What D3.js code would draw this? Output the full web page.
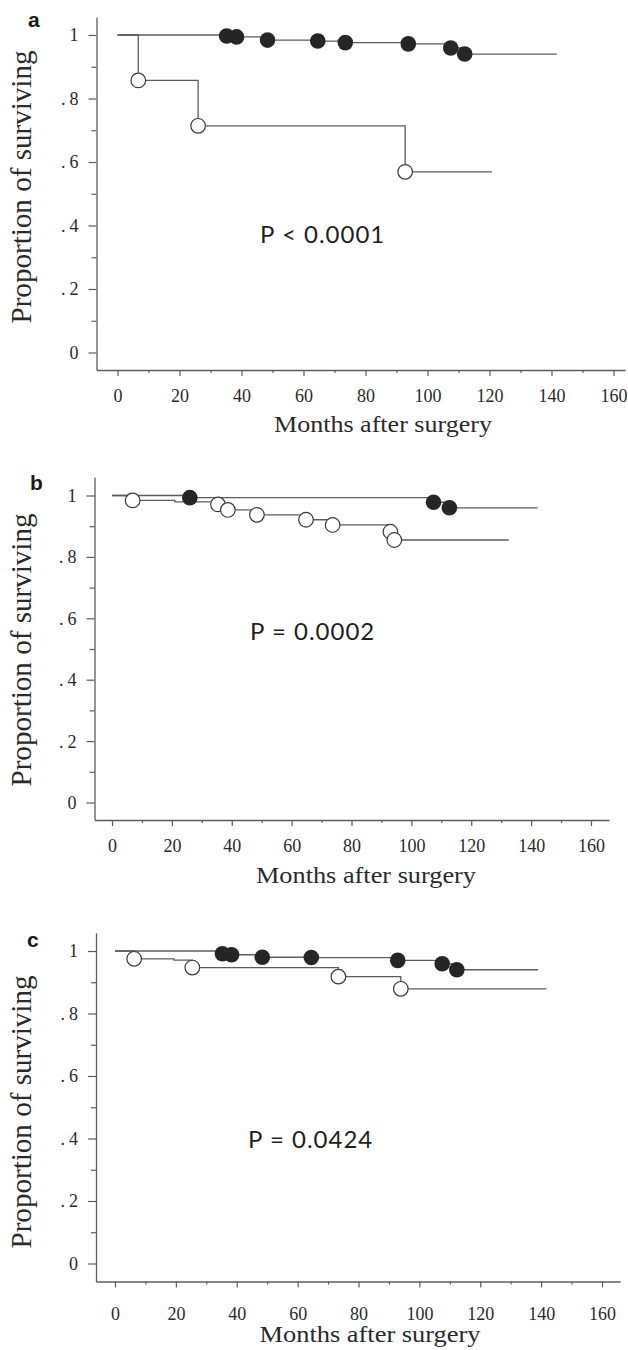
<!DOCTYPE html>
<html>
<head>
<meta charset="utf-8">
<script src="https://cdn.jsdelivr.net/npm/d3@7"></script>
<style>
  body { margin: 0; background: #fff; }
  svg { display: block; }
</style>
</head>
<body>
<svg id="chart" width="628" height="1350"></svg>
<script>
"use strict";

// axis ticks and labels
const xTicks = [0, 20, 40, 60, 80, 100, 120, 140, 160];
const xMinorTicks = [10, 30, 50, 70, 90, 110, 130, 150];
const yTicks = [0, 0.2, 0.4, 0.6, 0.8, 1];
const yTickLabels = ["0", ".2", ".4", ".6", ".8", "1"];
const yMinorTicks = [0.1, 0.3, 0.5, 0.7, 0.9];
const xTitle = "Months after surgery";
const yTitle = "Proportion of surviving";
const panelNames = ["a", "b", "c"];
const pTexts = ["P < 0.0001", "P = 0.0002", "P = 0.0424"];

// panel a
const aFilledTimes = [35.2, 38.4, 48.4, 64.6, 73.5, 93.8, 107.5, 112];
const aFilledSurv = [0.997, 0.994, 0.984, 0.981, 0.976, 0.972, 0.959, 0.94];
const aFilledEnd = 141.7;
const aOpenTimes = [6.7, 26, 92.8];
const aOpenSurv = [0.857, 0.714, 0.569];
const aOpenEnd = 120.8;

// panel b
const bFilledTimes = [26, 107.4, 112.7];
const bFilledSurv = [0.993, 0.978, 0.96];
const bFilledEnd = 142.2;
const bOpenTimes = [6.9, 21, 35.4, 38.7, 48.4, 64.8, 73.7, 93, 94.3];
const bOpenSurv = [0.984, 0.979, 0.971, 0.953, 0.937, 0.921, 0.904, 0.882, 0.855];
const bOpenMarked = [1, 0, 1, 1, 1, 1, 1, 1, 1];
const bOpenEnd = 132.5;

// panel c
const cFilledTimes = [35.3, 38.3, 48.4, 64.5, 92.9, 107.5, 112.3];
const cFilledSurv = [0.991, 0.988, 0.98, 0.979, 0.97, 0.959, 0.94];
const cFilledEnd = 139;
const cOpenTimes = [6.3, 19.4, 25.4, 73.4, 93.9];
const cOpenSurv = [0.975, 0.971, 0.947, 0.918, 0.879];
const cOpenMarked = [1, 0, 1, 1, 1];
const cOpenEnd = 141.8;

const svg = d3.select("#chart");
const serif = "'Liberation Serif', 'Times New Roman', serif";
const lineColor = "#5c5c5c";
const textColor = "#2a2a2a";

// pixel layout of each panel (the three plots are not quite aligned)
const panels = [
  { name: panelNames[0], p: pTexts[0],
    left: 96.5, right: 625, x0: 117.5, x160: 613.5,
    top: 17, bottom: 370, y0: 352.5, y1: 35,
    xLab: 32, titleY: 432, titleX: 383, titleW: 218,
    yTitleY: 187, nameX: 28, nameY: 27, pX: 260, pY: 243,
    filled: { t: aFilledTimes, s: aFilledSurv, end: aFilledEnd },
    open: { t: aOpenTimes, s: aOpenSurv, end: aOpenEnd } },
  { name: panelNames[1], p: pTexts[1],
    left: 94.5, right: 609, x0: 112, x160: 591,
    top: 477, bottom: 820, y0: 802.5, y1: 495.5,
    xLab: 32, titleY: 883, titleX: 366, titleW: 220,
    yTitleY: 650, nameX: 30, nameY: 490, pX: 250, pY: 640,
    filled: { t: bFilledTimes, s: bFilledSurv, end: bFilledEnd },
    open: { t: bOpenTimes, s: bOpenSurv, end: bOpenEnd, m: bOpenMarked } },
  { name: panelNames[2], p: pTexts[2],
    left: 96, right: 620, x0: 115, x160: 602,
    top: 933, bottom: 1281.5, y0: 1263.5, y1: 951,
    xLab: 38, titleY: 1342, titleX: 370, titleW: 221,
    yTitleY: 1112, nameX: 27, nameY: 947, pX: 248, pY: 1148,
    filled: { t: cFilledTimes, s: cFilledSurv, end: cFilledEnd },
    open: { t: cOpenTimes, s: cOpenSurv, end: cOpenEnd, m: cOpenMarked } }
];

const isMajorY = (d) => yTicks.some(v => Math.abs(v - d) < 1e-6);

const drawPanel = (p) => {
  const g = svg.append("g");

  // scales: ticks fixed at 0..160 / 0..1, axis lines run a bit past them
  const x = d3.scaleLinear().domain([0, 160]).range([p.x0, p.x160]);
  x.domain([x.invert(p.left), x.invert(p.right)]).range([p.left, p.right]);
  const y = d3.scaleLinear().domain([0, 1]).range([p.y0, p.y1]);
  y.domain([y.invert(p.bottom), y.invert(p.top)]).range([p.bottom, p.top]);

  // x axis
  const xg = g.append("g")
    .attr("transform", `translate(0,${p.bottom})`)
    .call(d3.axisBottom(x)
      .tickValues(xTicks.concat(xMinorTicks))
      .tickSizeOuter(0)
      .tickFormat(d => xTicks.includes(d) ? d : ""));
  xg.select(".domain").attr("stroke", lineColor).attr("stroke-width", 1.3);
  xg.selectAll(".tick line")
    .attr("stroke", lineColor)
    .attr("stroke-width", 1.2)
    .attr("y2", d => xTicks.includes(d) ? 6 : 3);
  xg.selectAll(".tick text")
    .attr("y", p.xLab)
    .attr("dy", 0)
    .attr("fill", textColor)
    .style("font-family", serif)
    .style("font-size", "18px");

  // y axis
  const yg = g.append("g")
    .attr("transform", `translate(${p.left},0)`)
    .call(d3.axisLeft(y)
      .tickValues(yTicks.concat(yMinorTicks))
      .tickSizeOuter(0)
      .tickFormat(d => {
        const i = yTicks.findIndex(v => Math.abs(v - d) < 1e-6);
        return i >= 0 ? yTickLabels[i] : "";
      }));
  yg.select(".domain").attr("stroke", lineColor).attr("stroke-width", 1.3);
  yg.selectAll(".tick line")
    .attr("stroke", lineColor)
    .attr("stroke-width", 1.2)
    .attr("x2", d => isMajorY(d) ? -8 : -5);
  yg.selectAll(".tick text")
    .attr("x", -14)
    .attr("dy", "0.33em")
    .attr("fill", textColor)
    .style("font-family", serif)
    .style("font-size", "18px")
    .style("letter-spacing", "4px");

  // titles
  g.append("text")
    .attr("x", p.titleX)
    .attr("y", p.titleY)
    .attr("text-anchor", "middle")
    .attr("textLength", p.titleW)
    .attr("lengthAdjust", "spacingAndGlyphs")
    .attr("fill", textColor)
    .style("font-family", serif)
    .style("font-size", "23px")
    .text(xTitle);

  g.append("text")
    .attr("transform", `translate(31,${p.yTitleY}) rotate(-90)`)
    .attr("text-anchor", "middle")
    .attr("textLength", 273)
    .attr("lengthAdjust", "spacingAndGlyphs")
    .attr("fill", textColor)
    .style("font-family", serif)
    .style("font-size", "29px")
    .text(yTitle);

  g.append("text")
    .attr("x", p.nameX)
    .attr("y", p.nameY)
    .attr("fill", "#1a1a1a")
    .style("font-family", "'Liberation Sans', Arial, sans-serif")
    .style("font-weight", "bold")
    .style("font-size", "21px")
    .text(p.name);

  g.append("text")
    .attr("x", p.pX)
    .attr("y", p.pY)
    .attr("fill", "#1e1e1e")
    .style("font-family", "Lato, 'Open Sans', sans-serif")
    .style("font-size", "24px")
    .style("letter-spacing", "1px")
    .text(p.p);

  // Kaplan-Meier step curves
  const line = d3.line()
    .x(d => x(d[0]))
    .y(d => y(d[1]))
    .curve(d3.curveStepAfter);

  const stepPoints = (s) => {
    const pts = [[0, 1]];
    s.t.forEach((t, i) => pts.push([t, s.s[i]]));
    pts.push([s.end, s.s[s.s.length - 1]]);
    return pts;
  };
  const marks = (s) => s.t
    .map((t, i) => ({ t: t, v: s.s[i], on: s.m ? s.m[i] : 1 }))
    .filter(d => d.on);

  [p.open, p.filled].forEach(s => {
    g.append("path")
      .attr("d", line(stepPoints(s)))
      .attr("fill", "none")
      .attr("stroke", lineColor)
      .attr("stroke-width", 1.3);
  });

  g.selectAll(".open-mark")
    .data(marks(p.open))
    .enter()
    .append("circle")
    .attr("class", "open-mark")
    .attr("cx", d => x(d.t))
    .attr("cy", d => y(d.v))
    .attr("r", 7.3)
    .attr("fill", "#fff")
    .attr("stroke", "#3a3a3a")
    .attr("stroke-width", 1.2);

  g.selectAll(".filled-mark")
    .data(marks(p.filled))
    .enter()
    .append("circle")
    .attr("class", "filled-mark")
    .attr("cx", d => x(d.t))
    .attr("cy", d => y(d.v))
    .attr("r", 7.8)
    .attr("fill", "#262626");
};

panels.forEach(drawPanel);
</script>
</body>
</html>
